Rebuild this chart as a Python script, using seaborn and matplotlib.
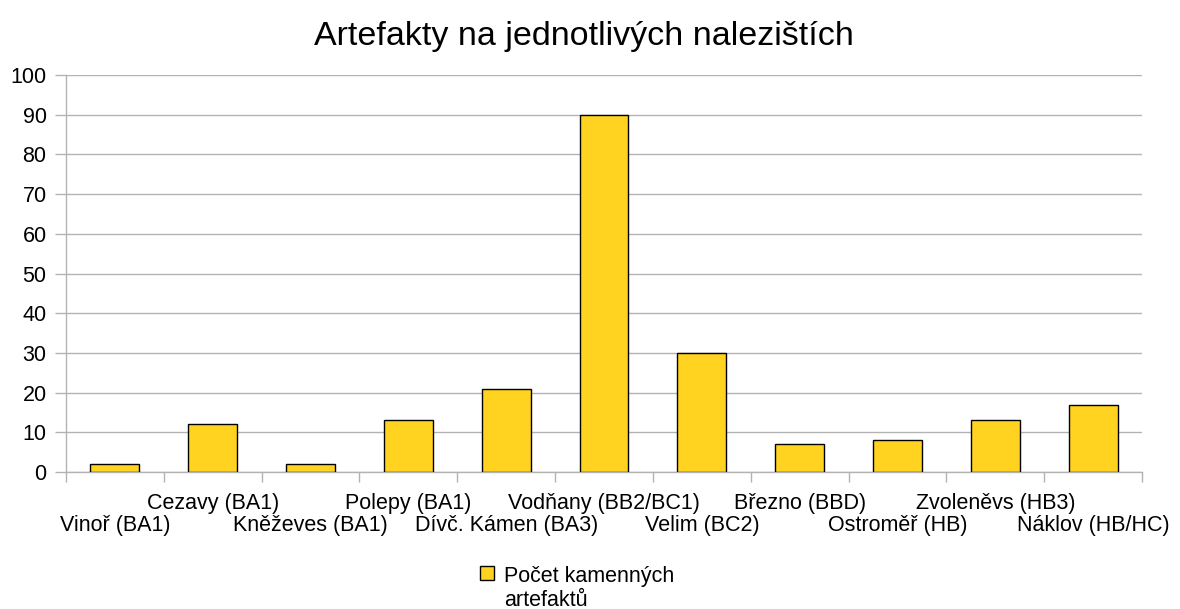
import matplotlib
matplotlib.use("Agg")
import matplotlib.pyplot as plt
import seaborn as sns
import pandas as pd

# ── Data ─────────────────────────────────────────────────────────────────────
sites = [
    "Vinoř (BA1)", "Cezavy (BA1)", "Kněževes (BA1)", "Polepy (BA1)",
    "Dívč. Kámen (BA3)", "Vodňany (BB2/BC1)", "Velim (BC2)", "Březno (BBD)",
    "Ostroměř (HB)", "Zvoleněvs (HB3)", "Náklov (HB/HC)",
]
counts = [2, 12, 2, 13, 21, 90, 30, 7, 8, 13, 17]
series_name = "Počet kamenných\nartefaktů"
y_ticks = list(range(0, 101, 10))

df = pd.DataFrame({"site": sites, "count": counts, "series": series_name})

# ── Style ────────────────────────────────────────────────────────────────────
sns.set_style("white")
plt.rcParams["font.family"] = ["Liberation Sans", "DejaVu Sans"]
plt.rcParams["text.color"] = "black"
plt.rcParams["xtick.labelcolor"] = "black"
plt.rcParams["ytick.labelcolor"] = "black"

GRID = "#b3b3b3"
YELLOW = "#FFD320"
FS = 15.5

fig = plt.figure(figsize=(11.8, 6.09), dpi=100)
ax = fig.add_axes([66 / 1180, 1 - 472 / 609, 1076 / 1180, 397 / 609])

sns.barplot(data=df, x="site", y="count", hue="series", palette=[YELLOW],
            width=0.5, edgecolor="black", linewidth=1, saturation=1,
            legend=True, ax=ax, zorder=3)

ax.set_xlim(-0.5, len(sites) - 0.5)
ax.set_ylim(0, 100)
ax.set_yticks(y_ticks)
ax.set_xlabel("")
ax.set_ylabel("")

# grid + spines
ax.yaxis.grid(True, color=GRID, lw=1, zorder=0)
ax.xaxis.grid(False)
for side in ["top", "right"]:
    ax.spines[side].set_visible(False)
for side in ["left", "bottom"]:
    ax.spines[side].set_color(GRID)
    ax.spines[side].set_linewidth(1)

# y ticks
ax.tick_params(axis="y", length=8, width=1, color=GRID, pad=6, labelsize=FS,
               left=True, labelcolor="black")

# category separators as major ticks
ax.set_xticks([i - 0.5 for i in range(len(sites) + 1)])
ax.set_xticklabels([])
ax.tick_params(axis="x", which="major", length=7.5, width=1, color=GRID,
               bottom=True)

# upper row of labels (odd categories) on minor ticks
upper = list(range(1, len(sites), 2))
ax.set_xticks(upper, minor=True)
ax.set_xticklabels([sites[i] for i in upper], minor=True)
ax.tick_params(axis="x", which="minor", length=0, pad=15, labelsize=FS,
               labelcolor="black")

# lower row of labels (even categories) on a secondary axis
lower = list(range(0, len(sites), 2))
sec = ax.secondary_xaxis("bottom")
sec.set_xticks(lower)
sec.set_xticklabels([sites[i] for i in lower])
sec.tick_params(axis="x", length=0, pad=31, labelsize=FS, labelcolor="black")
sec.spines["bottom"].set_visible(False)

# title
fig.text(584 / 1180, 1 - 36 / 609, "Artefakty na jednotlivých nalezištích",
         ha="center", va="center", fontsize=24.5)

# legend
handles, lbls = ax.get_legend_handles_labels()
ax.get_legend().remove()
leg = fig.legend(handles, lbls, loc="upper left",
                 bbox_to_anchor=(480 / 1180, 1 - 566 / 609), frameon=False,
                 fontsize=FS, handlelength=0.65, handleheight=0.65,
                 handletextpad=0.45, borderpad=0, borderaxespad=0)
# put the square next to the first line of the label
for column in leg._legend_handle_box.get_children():
    for item in column.get_children():
        item.align = "top"

fig.savefig("out.png", dpi=100)
